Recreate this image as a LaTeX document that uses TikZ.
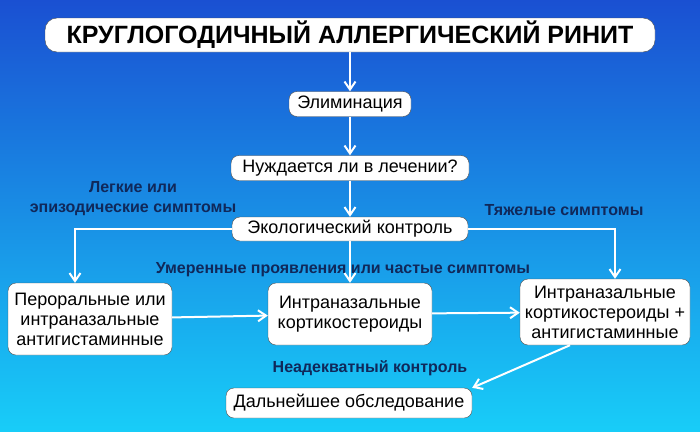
\documentclass[tikz,border=0pt]{standalone}
\usepackage{fontspec}
\setmainfont{Liberation Sans}
\usetikzlibrary{arrows.meta}
\definecolor{bgtop}{RGB}{26,80,210}
\definecolor{bgbot}{RGB}{24,205,248}
\definecolor{labelblue}{RGB}{16,40,90}
\tikzset{
    box/.style={draw=black!70, fill=white, rounded corners=8pt, align=center,
                inner sep=3pt, font=\fontsize{18}{20}\selectfont},
    lbl/.style={text=labelblue, align=center, font=\bfseries\fontsize{16}{20}\selectfont},
    arr/.style={white, line width=2pt, -{Straight Barb[length=8pt,width=11pt]}}
}
\begin{document}
\begin{tikzpicture}[x=1pt, y=-1pt]
    \shade[top color=bgtop, bottom color=bgbot] (0,0) rectangle (700,431);
    \useasboundingbox (0,0) rectangle (700,431);

    \node[box, minimum width=610pt, minimum height=34pt, rounded corners=12pt,
          font=\bfseries\fontsize{25}{28}\selectfont] (title) at (350,35)
          {КРУГЛОГОДИЧНЫЙ АЛЛЕРГИЧЕСКИЙ РИНИТ};
    \node[box, minimum width=122pt, minimum height=25pt] (elim) at (350,104) {Элиминация};
    \node[box, minimum width=238pt, minimum height=25pt] (need) at (350,168) {Нуждается ли в лечении?};
    \node[box, minimum width=236pt, minimum height=24pt] (eco) at (350,229) {Экологический контроль};
    \node[box, minimum width=164pt, minimum height=72pt] (oral) at (90,319)
          {Пероральные или\\интраназальные\\антигистаминные};
    \node[box, minimum width=164pt, minimum height=62pt] (cort) at (350,314)
          {Интраназальные\\кортикостероиды};
    \node[box, minimum width=170pt, minimum height=66pt] (comb) at (605,312)
          {Интраназальные\\кортикостероиды +\\антигистаминные};
    \node[box, minimum width=246pt, minimum height=30pt] (exam) at (349,403) {Дальнейшее обследование};

    % labels
    \node[lbl] (mild) at (133,199) {Легкие или\\эпизодические симптомы};
    \node[lbl] (severe) at (564,210) {Тяжелые симптомы};
    \node[lbl] (moder) at (343,270) {Умеренные проявления или частые симптомы};
    \node[lbl] (inadeq) at (370,368) {Неадекватный контроль};

    % connectors
    \draw[arr] (title) -- (elim);
    \draw[arr] (elim) -- (need);
    \draw[arr] (need) -- (eco);
    \draw[arr] (eco) -- (cort);
    \draw[arr] (eco.west) -| ([xshift=-15pt]oral.north);
    \draw[arr] (eco.east) -| ([xshift=10pt]comb.north);
    \draw[arr] (oral) -- (cort);
    \draw[arr] (cort) -- (comb);
    \draw[arr] ([xshift=-35pt]comb.south) -- (exam.north east);
\end{tikzpicture}
\end{document}
